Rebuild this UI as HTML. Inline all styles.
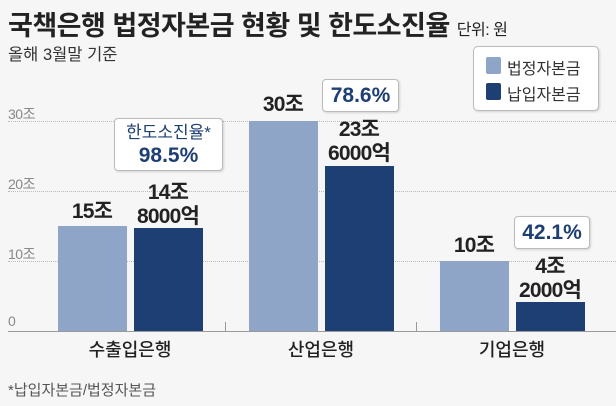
<!DOCTYPE html>
<html><head><meta charset="utf-8"><style>
body{margin:0;width:616px;height:406px;background:#f6f6f6;overflow:hidden;position:relative;font-family:"Liberation Sans","Noto Sans CJK KR",sans-serif;}
.a{position:absolute;white-space:nowrap;}
.bar{position:absolute;}
.l{background:#8ea5c8}.d{background:#1e3f73}
.grid{position:absolute;left:8px;right:0;border-top:1px dotted #bbb;height:0}
.tk{position:absolute;left:8px;font-size:14px;color:#888;letter-spacing:-0.5px}
.v{position:absolute;font-size:21px;font-weight:bold;color:#222;text-align:center;width:120px;line-height:24px;letter-spacing:-0.8px}
.box{position:absolute;background:#fff;border:1px solid #bbb;border-radius:4px;color:#1e3f73;font-weight:bold;text-align:center;box-shadow:1px 1px 2px rgba(0,0,0,.15)}
.c{position:absolute;font-size:18px;color:#222;text-align:center;width:140px;top:336px;font-weight:500}
</style></head><body>
<div class="a" style="left:8px;top:4px;font-size:27px;font-weight:bold;color:#222;letter-spacing:-0.5px">국책은행 법정자본금 현황 및 한도소진율 <span style="font-size:16px;font-weight:normal">단위: 원</span></div>
<div class="a" style="left:8px;top:41px;font-size:16.5px;color:#333">올해 3월말 기준</div>
<div class="box" style="left:473px;top:46px;width:124px;height:63px;border-radius:5px;color:#333;font-weight:normal;font-size:16px;text-align:left">
<div style="position:absolute;left:12px;top:10px;width:15px;height:17px;background:#8ea5c8;border-radius:2px"></div><div style="position:absolute;left:33px;top:8px">법정자본금</div>
<div style="position:absolute;left:12px;top:36px;width:15px;height:17px;background:#1e3f73;border-radius:2px"></div><div style="position:absolute;left:33px;top:34px">납입자본금</div></div>
<div class="grid" style="top:121px"></div><div class="grid" style="top:191px"></div><div class="grid" style="top:261px"></div>
<div class="tk" style="top:104px">30조</div><div class="tk" style="top:174px">20조</div><div class="tk" style="top:244px">10조</div><div class="tk" style="top:313px">0</div>
<div class="bar l" style="left:58px;width:69px;top:226px;height:105px"></div>
<div class="bar d" style="left:134px;width:69px;top:228px;height:103px"></div>
<div class="bar l" style="left:249px;width:69px;top:121px;height:210px"></div>
<div class="bar d" style="left:325px;width:69px;top:166px;height:165px"></div>
<div class="bar l" style="left:440px;width:69px;top:261px;height:70px"></div>
<div class="bar d" style="left:516px;width:69px;top:302px;height:29px"></div>
<div style="position:absolute;left:8px;right:0;top:331px;height:1px;background:#999"></div>
<div style="position:absolute;left:225px;top:322px;width:1px;height:10px;background:#999"></div>
<div style="position:absolute;left:416px;top:322px;width:1px;height:10px;background:#999"></div>
<div class="v" style="left:32px;top:200px">15조</div>
<div class="v" style="left:108px;top:181px">14조<br>8000억</div>
<div class="v" style="left:223px;top:93px">30조</div>
<div class="v" style="left:299px;top:118px">23조<br>6000억</div>
<div class="v" style="left:414px;top:234px">10조</div>
<div class="v" style="left:490px;top:255px">4조<br>2000억</div>
<div class="box" style="left:114px;top:118px;width:109px;height:53px;font-size:17px;line-height:23px;padding-top:2px;box-sizing:border-box"><span style="font-weight:normal">한도소진율*</span><br><span style="font-size:21px">98.5%</span></div>
<div class="box" style="left:322px;top:79px;width:75px;height:31px;font-size:21px;line-height:31px">78.6%</div>
<div class="box" style="left:514px;top:216px;width:74px;height:31px;font-size:21px;line-height:31px">42.1%</div>
<div class="c" style="left:60px">수출입은행</div>
<div class="c" style="left:251px">산업은행</div>
<div class="c" style="left:442px">기업은행</div>
<div class="a" style="left:8px;top:379px;font-size:15px;color:#555">*납입자본금/법정자본금</div>
</body></html>
